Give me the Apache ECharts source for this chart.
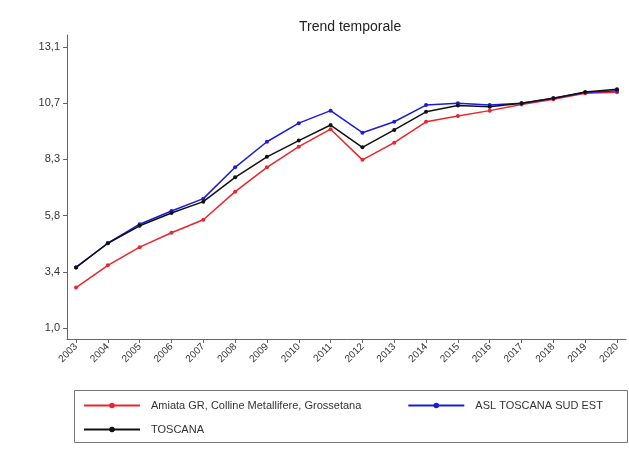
<!DOCTYPE html>
<html>
<head>
<meta charset="utf-8">
<script src="https://cdn.jsdelivr.net/npm/echarts@6/dist/echarts.min.js"></script>
<style>
html,body{margin:0;padding:0;background:#fff;}
#c{width:629px;height:454px;}
</style>
</head>
<body>
<div id="c"></div>
<script>
var years = [2003,2004,2005,2006,2007,2008,2009,2010,2011,2012,2013,2014,2015,2016,2017,2018,2019,2020];
var amiata = [2.74,3.70,4.48,5.10,5.66,6.87,7.92,8.81,9.56,8.24,8.98,9.88,10.13,10.36,10.62,10.85,11.11,11.15];
var aslSudEst = [3.61,4.65,5.47,6.04,6.57,7.92,9.02,9.82,10.36,9.41,9.88,10.60,10.68,10.60,10.68,10.89,11.14,11.22];
var toscana = [3.61,4.65,5.40,5.95,6.44,7.49,8.37,9.07,9.74,8.78,9.53,10.31,10.58,10.53,10.68,10.89,11.16,11.28];
var yTicks = [1.0,3.42,5.84,8.26,10.68,13.1];
var names = ['Amiata GR, Colline Metallifere, Grossetana','ASL TOSCANA SUD EST','TOSCANA'];

function pairs(arr){ return years.map(function(y,i){ return [y, arr[i]]; }); }

var chart = echarts.init(document.getElementById('c'));
var font = 'Liberation Sans, Arial, sans-serif';
function ser(name, arr, color){
  return {
    name: name, type: 'line', data: pairs(arr),
    symbol: 'circle', symbolSize: 4,
    lineStyle: {color: color, width: 1.5},
    itemStyle: {color: color},
    animation: false
  };
}
var legendText = {fontFamily: font, fontSize: 11, color: '#333', padding: [0,0,0,6]};
chart.setOption({
  animation: false,
  backgroundColor: '#fff',
  title: {
    text: 'Trend temporale', left: 294, top: 15,
    textStyle: {fontFamily: font, fontSize: 14, fontWeight: 'normal', color: '#222'}
  },
  grid: {left: 67, right: 3, top: 35, bottom: 115},
  xAxis: {
    type: 'value', min: 2002.717, max: 2020.283,
    axisLine: {show: true, lineStyle: {color: '#666', width: 1}},
    splitLine: {show: false},
    axisTick: {show: true, customValues: years, length: 4, lineStyle: {color: '#666'}},
    axisLabel: {customValues: years, rotate: 45, fontFamily: font, fontSize: 10, color: '#333', margin: 6,
      formatter: function(v){ return String(v); }}
  },
  yAxis: {
    type: 'value', min: 0.526, max: 13.617,
    axisLine: {show: true, lineStyle: {color: '#666', width: 1}},
    splitLine: {show: false},
    axisTick: {show: true, customValues: yTicks, length: 4, lineStyle: {color: '#666'}},
    axisLabel: {customValues: yTicks, fontFamily: font, fontSize: 11, color: '#333', margin: 7,
      formatter: function(v){ return v.toFixed(1).replace('.', ','); }}
  },
  legend: [
    {data: [names[0], names[1]], left: 78, top: 395, itemWidth: 56, itemHeight: 7, itemGap: 46,
     textStyle: legendText, selectedMode: false},
    {data: [names[2]], left: 78, top: 419, itemWidth: 56, itemHeight: 7,
     textStyle: legendText, selectedMode: false}
  ],
  graphic: [
    {type: 'rect', left: 72, top: 388, shape: {width: 553, height: 52},
     style: {fill: 'none', stroke: '#777', lineWidth: 1}, silent: true}
  ],
  series: [
    ser(names[0], amiata, '#e8262b'),
    ser(names[1], aslSudEst, '#1c1cd6'),
    ser(names[2], toscana, '#111111')
  ]
});
</script>
</body>
</html>
